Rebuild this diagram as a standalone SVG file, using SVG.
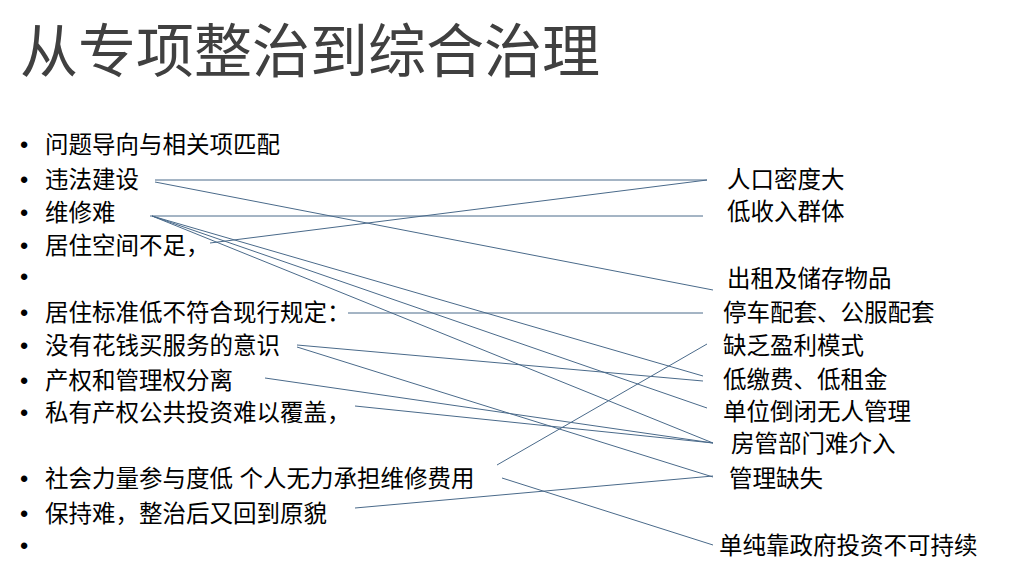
<svg xmlns="http://www.w3.org/2000/svg" width="1011" height="571" viewBox="0 0 1011 571">
<style>
text{font-family:"Liberation Sans","Noto Sans CJK SC",sans-serif;fill:#000}
.t{font-size:58px;fill:#404040}
.b{font-size:23.5px}
.r{font-size:23.5px}
line{stroke:#4a6a8a;stroke-width:1}
</style>
<rect width="1011" height="571" fill="#fff"/>
<g id="title"><text class="t" x="20" y="72">从专项整治到综合治理</text></g>
<g id="left">
<text class="b" x="20" y="153">•</text><text class="b" x="45" y="153">问题导向与相关项匹配</text>
<text class="b" x="20" y="188">•</text><text class="b" x="45" y="188">违法建设</text>
<text class="b" x="20" y="221">•</text><text class="b" x="45" y="221">维修难</text>
<text class="b" x="20" y="254">•</text><text class="b" x="45" y="254">居住空间不足，</text>
<text class="b" x="20" y="285">•</text>
<text class="b" x="20" y="321">•</text><text class="b" x="45" y="321">居住标准低不符合现行规定：</text>
<text class="b" x="20" y="354">•</text><text class="b" x="45" y="354">没有花钱买服务的意识</text>
<text class="b" x="20" y="389">•</text><text class="b" x="45" y="389">产权和管理权分离</text>
<text class="b" x="20" y="421">•</text><text class="b" x="45" y="421">私有产权公共投资难以覆盖，</text>
<text class="b" x="20" y="487">•</text><text class="b" x="45" y="487">社会力量参与度低 个人无力承担维修费用</text>
<text class="b" x="20" y="522">•</text><text class="b" x="45" y="522">保持难，整治后又回到原貌</text>
<text class="b" x="20" y="554">•</text>
</g>
<g id="right">
<text class="r" x="727" y="188">人口密度大</text>
<text class="r" x="727" y="220">低收入群体</text>
<text class="r" x="727" y="287">出租及储存物品</text>
<text class="r" x="723" y="321">停车配套、公服配套</text>
<text class="r" x="723" y="354">缺乏盈利模式</text>
<text class="r" x="723" y="388">低缴费、低租金</text>
<text class="r" x="723" y="420">单位倒闭无人管理</text>
<text class="r" x="731" y="452">房管部门难介入</text>
<text class="r" x="729" y="487">管理缺失</text>
<text class="r" x="719" y="554">单纯靠政府投资不可持续</text>
</g>
<g id="connectors">
<line x1="155" y1="180" x2="707" y2="180"/>
<line x1="155" y1="182" x2="713" y2="290"/>
<line x1="210" y1="243" x2="707" y2="180"/>
<line x1="150" y1="216" x2="703" y2="216"/>
<line x1="152" y1="216" x2="703" y2="376"/>
<line x1="152" y1="216" x2="707" y2="408"/>
<line x1="152" y1="216" x2="713" y2="443"/>
<line x1="348" y1="313" x2="703" y2="313"/>
<line x1="297" y1="345" x2="703" y2="381"/>
<line x1="297" y1="347" x2="713" y2="477"/>
<line x1="265" y1="378" x2="713" y2="443"/>
<line x1="355" y1="406" x2="713" y2="443"/>
<line x1="497" y1="465" x2="707" y2="344"/>
<line x1="502" y1="478" x2="713" y2="545"/>
<line x1="355" y1="508" x2="713" y2="476"/>
</g>
</svg>
